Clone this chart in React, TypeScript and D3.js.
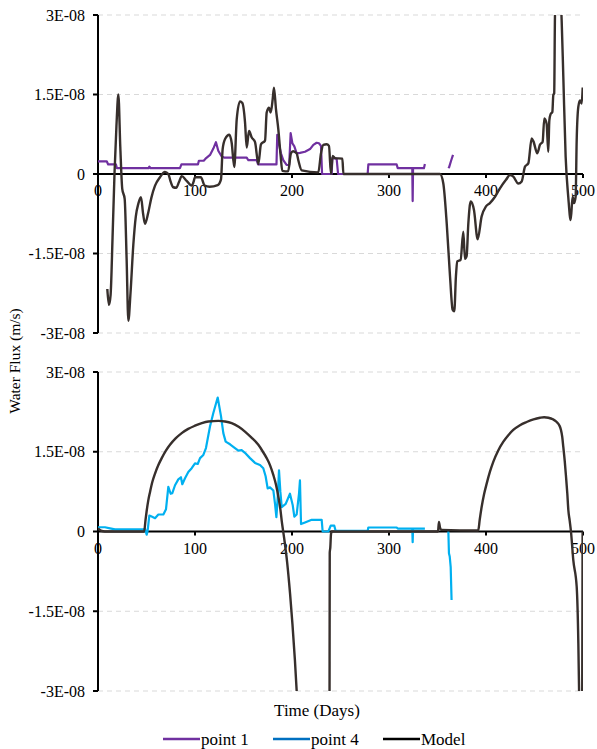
import React from 'react'
import * as d3 from 'd3'

// values are in units of 1E-09 m/s (15 -> 1.5E-08)
const UNIT = 1e-9

const xTicks = [0, 100, 200, 300, 400, 500]
const yTicks = [3e-8, 1.5e-8, 0, -1.5e-8, -3e-8]
const yTickLabels = ['3E-08', '1.5E-08', '0', '-1.5E-08', '-3E-08']

// top panel, model
const topModel = [
  [9.6, -21.7], [11.3, -24.7], [13, -22.8], [15, -12], [17, 0], [19, 9], [21, 15], [23, 5], [25, -2.8],
  [27.5, -4.7], [29.5, -16], [31.3, -27.7], [33.5, -22.5], [36.4, -13.4], [39, -8], [41.6, -5.6], [44.3, -4.4],
  [46.5, -7.5], [48.5, -9.4], [51.9, -7.2], [55, -4.5], [58.8, -2.2], [63.9, -0.6], [69, 0.4], [72.5, 0],
  [75, -1.5], [77.6, -2.5], [80.6, -2.6], [83.5, -1.5], [86.3, -0.4], [91.4, -1.3], [96.6, -2.2], [98.5, -1.5],
  [100, -0.6], [106, -0.6], [110, -2.2], [115, -2.4], [123.4, -2.1], [126.8, -1], [128.5, 4.7], [131, 6.6],
  [135.4, 7.4], [137.8, 5.9], [140.5, 1.3], [143, 10.3], [146.4, 13.7], [148.8, 13.4], [151.6, 9.7], [153.3, 5.0],
  [155.7, 8.1], [158.5, 6.9], [161.9, 6.0], [165.3, 1.9], [168, 5.6], [172.2, 6.3], [173.9, 11.6], [176.3, 12.5],
  [178, 11.6], [180.1, 14.1], [181.4, 16.3], [183.5, 12.2], [185.9, 8.4], [188.3, 3.4], [190, 0.6], [196, 0.5],
  [198.9, 3.9], [201.2, 4.3], [204.8, 3.9], [206.5, 2.6], [210, 0.7], [227.1, 0.3], [229.9, 3.9], [232.3, 5.5],
  [235.7, 5.6], [238.1, 5.3], [240.2, 0], [241.9, 3.4], [244.3, 3.0], [251.9, 2.9], [253, 0], [352.6, 0],
  [356, -1.8], [359.5, -9.3], [362.9, -19.3], [365.6, -25.6], [367.3, -25.9], [369, -19.3], [370.4, -16.5],
  [373.8, -16.2], [376.6, -10.9], [378.3, -16], [380, -15.5], [381.8, -9.3], [384.2, -5.2], [387.6, -6.8],
  [391.4, -12.3], [395.5, -8.0], [400, -6.1], [404, -5.5], [409.3, -4.3], [414.4, -2.7], [420.6, -1.1],
  [424.7, -0.2], [428.2, -0.5], [433.3, -1.8], [436.8, -1.4], [440.2, 1.4], [443.6, 2.0], [447.1, 6.7],
  [448.8, 6.2], [452.9, 3.9], [455.6, 5.5], [458.4, 6.1], [460.1, 10.5], [462.5, 9.5], [464.2, 4.2],
  [465.3, 10.1], [466.6, 11.3], [468.4, 11.7], [469.4, 14.9], [470.3, 15.2], [471.1, 29.7], [472.5, 36],
  [476, 36], [478, 29], [479.7, 18.4], [482.1, 3.3], [484.8, -4.3], [487.3, -8.7], [489.3, -4.3], [490.7, -5.5],
  [492.4, -4.3], [493.5, 6.4], [495.2, 12.7], [496.9, 13.9], [498.6, 13.3], [499.7, 16.3],
]

// top panel, point 1 (NaN = no data)
const topPoint1 = [
  [0, 2.4], [9, 2.4], [10.5, 1.8], [18.5, 1.8], [19.5, 1.1], [52, 1.1], [53, 1.4], [54, 1.1], [84.5, 1.1],
  [86, 1.8], [103, 1.8], [104, 2.5], [109, 2.5], [111.5, 3.0], [115.5, 3.6], [118.9, 4.8], [121.6, 6.0],
  [124, 4.4], [127.5, 3.3], [130, 3.1], [153.3, 3.1], [155, 2.6], [163.6, 2.6], [165, 1.8], [184, 1.8],
  [184.8, 7.4], [186.4, 5.8], [188.6, 3.9], [191, 2.6], [194.4, 1.7], [197.1, 1.7], [198.6, 7.7], [200.4, 5.8],
  [202.4, 5.2], [204.8, 3.9], [208.2, 4.0], [213.4, 4.2], [218.6, 4.7], [222, 5.5], [225.4, 5.9], [227.8, 5.8],
  [229.9, 5.3], [231, 0], [240.9, 0], [241.6, 3.0], [246, 2.9], [247.5, 0], [278, 0], [278.7, 1.8],
  [307.9, 1.8], [309, 1.1], [324, 1.1], [324.4, -5.1], [324.8, 1.1], [336, 1.1], [337, 1.9], [338, NaN],
  [361.2, 1.1], [362, 1.3], [364, 2.5], [366, 3.6],
]

// bottom panel, model
const bottomModel = [
  [0, 0.6], [4, 0.1], [10, 0], [47.6, 0], [49, 2.2], [50.2, 3.9], [51.8, 5.8], [53.6, 7.4], [56, 9.3],
  [58.8, 10.9], [62, 12.4], [65.7, 13.8], [70, 15.2], [74.2, 16.3], [80, 17.5], [86.3, 18.5], [93, 19.3],
  [100, 19.9], [107, 20.4], [113.7, 20.7], [124, 20.8], [131, 20.7], [137.8, 20.4], [145, 19.7], [151.5, 18.8],
  [158, 17.7], [165.3, 16.3], [170, 15.0], [173.9, 13.8], [177.5, 12.4], [180.8, 10.6], [183.5, 8.8],
  [186, 6.5], [188, 4.2], [189.4, 2.0], [191.8, -1.1], [195, -5.8], [198, -11.7], [200.5, -17.5],
  [203, -24.2], [204.8, -29.9], [207, -38], [215, -50], [236, -50], [238.6, -45], [238.9, -4], [239.5, -3],
  [240.2, -0.5], [241, 0], [350.5, 0], [351.5, 1.8], [352.5, 0.8], [354, 0.3], [392, 0.2], [393.5, 2.2],
  [395.5, 4.6], [398, 7.0], [400.7, 9.0], [404, 11.2], [407.5, 13.1], [412.5, 15.2], [417.9, 16.9],
  [423, 18.1], [428.1, 19.1], [435, 20.0], [441.9, 20.6], [449, 21.1], [455.7, 21.4], [460, 21.5],
  [464.3, 21.4], [469, 21.1], [472.9, 20.6], [475.5, 20.0], [477.3, 19.1], [478.6, 17.8], [479.7, 15.9],
  [481.2, 13.2], [482.5, 10.3], [483.8, 7.2], [484.9, 4.0], [486.3, 2.0], [487.6, 0], [490, -5.4],
  [493.5, -10.4], [495.2, -21], [496, -30.5], [497, -45], [498.5, -45], [499.2, -30], [499.6, 0],
]

// bottom panel, point 4 (NaN = no data)
const bottomPoint4 = [
  [0, 0.8], [7.2, 0.8], [12.4, 0.6], [17.5, 0.4], [46.7, 0.4], [48.5, 0.5], [50.2, -0.6], [51.2, 0.2],
  [52.9, 3.0], [55.3, 2.8], [58.8, 2.5], [62.2, 3.2], [67.4, 3.2], [70.1, 4.2], [72.5, 8.4], [74.9, 7.1],
  [76.6, 7.2], [79.4, 8.7], [82.8, 9.8], [85.5, 10.2], [86.9, 8.9], [89.7, 10.0], [93.1, 11.2], [96.6, 11.9],
  [100, 12.8], [102.8, 12.7], [105.2, 13.8], [108.6, 14.4], [111.3, 15.7], [115.5, 19.8], [118.9, 22.3],
  [123.4, 25.2], [126.8, 21.7], [129.2, 18.5], [131.6, 16.9], [136.1, 16.4], [141.2, 15.7], [144.7, 15.2],
  [148.1, 15.3], [151.5, 14.8], [156.7, 13.8], [161.9, 12.9], [167, 12.5], [170.4, 11.9], [172.8, 10.4],
  [174.9, 8.1], [177.3, 8.3], [180.8, 7.7], [182.5, 5.2], [183.9, 2.7], [185.2, 6.1], [186.6, 11.5],
  [188, 7.5], [189.4, 4.6], [193.5, 5.2], [197.9, 7.1], [200.7, 5.0], [202.4, 2.8], [204.8, 3.2], [207.2, 7.1],
  [208.2, 9.6], [209.3, 1.4], [213.4, 1.7], [220.3, 2.2], [230.6, 2.2], [231.6, 0], [237.5, 0], [239.9, 1.1],
  [243.6, 1.1], [245, 0.1], [278, 0.1], [278.7, 0.75], [307.9, 0.75], [309, 0.55], [324, 0.55], [324.4, -2.0],
  [324.8, 0.55], [337, 0.55], [338, NaN], [361.2, 0], [361.8, -4.1], [362.6, -4.7], [363.6, -6.7], [364.5, -12.9],
]

const COLORS = { point1: '#7030A0', point4: '#00B0F0', point4Legend: '#0070C0', model: '#372F2C' }
const FONT = 'Liberation Serif, Tinos, Times New Roman, DejaVu Serif, serif'

const W = 597
const H = 749
const x = d3.scaleLinear().domain([0, 500]).range([98, 583])

const textStyle = { fontFamily: FONT }

const Panel = ({ id, top, bottom, obs, obsColor, model }) => {
  const y = d3.scaleLinear().domain([-3e-8, 3e-8]).range([bottom, top])
  const obsLine = d3
    .line()
    .defined((d) => !isNaN(d[1]))
    .x((d) => x(d[0]))
    .y((d) => y(d[1] * UNIT))
  const modelLine = d3
    .line()
    .x((d) => x(d[0]))
    .y((d) => y(d[1] * UNIT))
    .curve(d3.curveMonotoneX)
  const zero = y(0)
  return (
    <g>
      <defs>
        <clipPath id={id}>
          <rect x={x(0)} y={top} width={x(500) - x(0)} height={bottom - top} />
        </clipPath>
      </defs>
      {yTicks.filter((t) => t !== 0).map((t) => (
        <line key={t} x1={x(0)} x2={x(500) - 3} y1={y(t)} y2={y(t)} stroke="#D9D9D9" strokeWidth={1} strokeDasharray="5,4" />
      ))}
      {/* y axis */}
      <line x1={x(0)} x2={x(0)} y1={top} y2={bottom} stroke="#000" strokeWidth={2} />
      {yTicks.map((t, i) => (
        <g key={t}>
          <line x1={x(0) - 5} x2={x(0)} y1={y(t)} y2={y(t)} stroke="#000" strokeWidth={2} />
          <text x={85} y={y(t)} dy="0.35em" textAnchor="end" fontSize={16} style={textStyle} fill="#000">
            {yTickLabels[i]}
          </text>
        </g>
      ))}
      {/* x axis at zero */}
      <line x1={x(0)} x2={x(500)} y1={zero} y2={zero} stroke="#000" strokeWidth={2} />
      {xTicks.map((t) => (
        <g key={t}>
          <line x1={x(t)} x2={x(t)} y1={zero} y2={zero + 4} stroke="#000" strokeWidth={2} />
          <text x={x(t)} y={zero + 22} textAnchor="middle" fontSize={16} style={textStyle} fill="#000">
            {t}
          </text>
        </g>
      ))}
      <g clipPath={`url(#${id})`}>
        <path d={obsLine(obs)} fill="none" stroke={obsColor} strokeWidth={2.2} strokeLinejoin="round" />
        <path d={modelLine(model)} fill="none" stroke={COLORS.model} strokeWidth={2.4} strokeLinejoin="round" />
      </g>
    </g>
  )
}

const legendItems = [
  { label: 'point 1', color: COLORS.point1, x0: 163 },
  { label: 'point 4', color: COLORS.point4Legend, x0: 273 },
  { label: 'Model', color: '#000', x0: 383 },
]

export default function App() {
  return (
    <svg width={W} height={H} style={{ position: 'absolute', left: 0, top: 0, background: '#fff' }}>
      <rect width={W} height={H} fill="#fff" />
      <Panel id="clipTop" top={15} bottom={333} obs={topPoint1} obsColor={COLORS.point1} model={topModel} />
      <Panel id="clipBottom" top={372} bottom={691} obs={bottomPoint4} obsColor={COLORS.point4} model={bottomModel} />
      <text transform="translate(20,361) rotate(-90)" textAnchor="middle" fontSize={15.5} style={textStyle} fill="#000">
        Water Flux (m/s)
      </text>
      <text x={317} y={716} textAnchor="middle" fontSize={17} style={textStyle} fill="#000">
        Time (Days)
      </text>
      {legendItems.map((d) => (
        <g key={d.label}>
          <line x1={d.x0} x2={d.x0 + 37} y1={739} y2={739} stroke={d.color} strokeWidth={2.5} />
          <text x={d.x0 + 38} y={745} fontSize={17} style={textStyle} fill="#000">
            {d.label}
          </text>
        </g>
      ))}
    </svg>
  )
}
